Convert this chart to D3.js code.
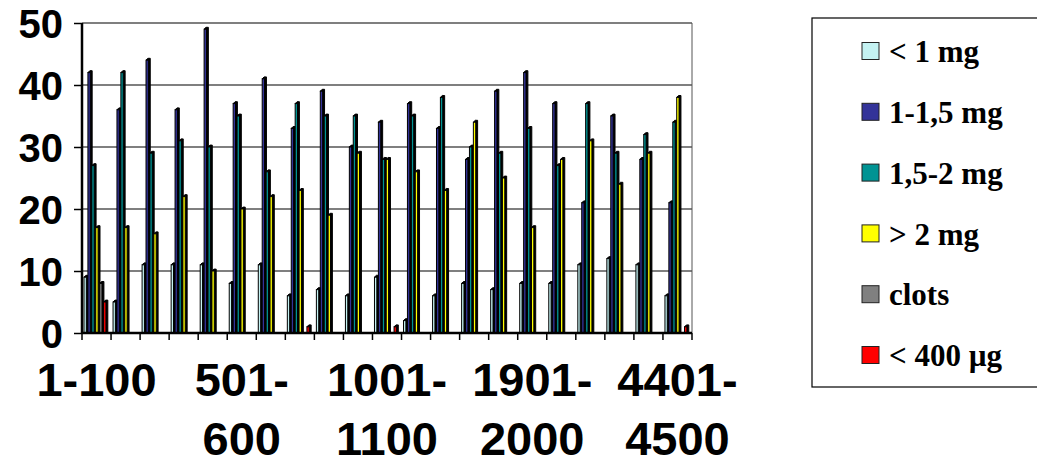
<!DOCTYPE html>
<html><head><meta charset="utf-8">
<script src="https://cdn.jsdelivr.net/npm/d3@7"></script>
<style>body{margin:0;background:#fff}svg{display:block}</style>
</head><body>
<svg id="chart" width="1037" height="461"></svg>
<script>
const categories = ["1-100","101-200","201-300","301-400","401-500","501-600","601-700","701-800","801-900","901-1000","1001-1100","1101-1200","1301-1400","1501-1600","1701-1800","1901-2000","2401-2500","2901-3000","3401-3500","3901-4000","4401-4500"];
const labelledCategories = ["1-100","501-600","1001-1100","1901-2000","4401-4500"];
const seriesNames = ["< 1 mg","1-1,5 mg","1,5-2 mg","> 2 mg","clots","< 400 µg"];
const seriesColors = ["#C4F2F2","#333399","#009393","#FFFF00","#808080","#FF0000"];
const lessThan1mg   = [9,5,11,11,11,8,11,6,7,6,9,2,6,8,7,8,8,11,12,11,6];
const from1to15mg   = [42,36,44,36,49,37,41,33,39,30,34,37,33,28,39,42,37,21,35,28,21];
const from15to2mg   = [27,42,29,31,30,35,26,37,35,35,28,35,38,30,29,33,27,37,29,32,34];
const moreThan2mg   = [17,17,16,22,10,20,22,23,19,29,28,26,23,34,25,17,28,31,24,29,38];
const clots         = [8,0,0,0,0,0,0,0,0,0,0,0,0,0,0,0,0,0,0,0,0];
const lessThan400ug = [5,0,0,0,0,0,0,1,0,0,1,0,0,0,0,0,0,0,0,0,1];
const yTicks = [0,10,20,30,40,50];

const seriesValues = [lessThan1mg, from1to15mg, from15to2mg, moreThan2mg, clots, lessThan400ug];

const svg = d3.select("#chart");
const L = 82, R = 692, T = 23, B = 333;

const x0 = d3.scaleBand().domain(categories).range([L, R]).paddingInner(0).paddingOuter(0);
const x1 = d3.scaleBand().domain(d3.range(seriesNames.length)).range([2, 25.5]);
const y = d3.scaleLinear().domain([0, 50]).range([B, T]);

// gridlines
svg.append("g").selectAll("line").data(yTicks.filter(d => d > 0)).join("line")
  .attr("x1", L).attr("x2", R).attr("y1", d => y(d)).attr("y2", d => y(d))
  .attr("stroke", "#000").attr("stroke-width", 1.2);
// right border
svg.append("line").attr("x1", R).attr("x2", R).attr("y1", T).attr("y2", B)
  .attr("stroke", "#555").attr("stroke-width", 1);

// bars
const bw = x1.bandwidth();
const face = bw * 0.6, depth = 1.9;
const gBars = svg.append("g");
categories.forEach((c, ci) => {
  seriesValues.forEach((vals, si) => {
    const v = vals[ci];
    if (v <= 0) return;
    const bx = x0(c) + x1(si);
    const by = y(v);
    const h = y(0) - by;
    gBars.append("polygon")
      .attr("points", [[bx, by], [bx + depth, by - depth], [bx + face + depth, by - depth], [bx + face + depth, y(0)], [bx + face, y(0)], [bx + face, by]].map(p => p.join(",")).join(" "))
      .attr("fill", "#000").attr("stroke", "#000").attr("stroke-width", 1);
    gBars.append("rect")
      .attr("x", bx).attr("y", by).attr("width", face).attr("height", h)
      .attr("fill", seriesColors[si]).attr("stroke", "#000").attr("stroke-width", 1);
  });
});

// y axis
const yAxis = d3.axisLeft(y).tickValues(yTicks).tickSize(8).tickPadding(11).tickFormat(d3.format("d"));
const gy = svg.append("g").attr("transform", `translate(${L},0)`).call(yAxis);
gy.select(".domain").attr("stroke", "#000").attr("stroke-width", 2.5).attr("d", `M0,${T}V${B}`);
gy.selectAll(".tick line").attr("stroke", "#000").attr("stroke-width", 1.5);
gy.selectAll(".tick text").attr("font-family", "'Liberation Sans', Arial, sans-serif")
  .attr("font-weight", "bold").attr("font-size", 40).attr("fill", "#000").attr("dy", "0.36em");

// x axis
const xAxis = d3.axisBottom(x0).tickSize(0).tickFormat(d => labelledCategories.includes(d) ? d : "");
const gx = svg.append("g").attr("transform", `translate(0,${B})`).call(xAxis);
gx.select(".domain").attr("stroke", "#000").attr("stroke-width", 2.5).attr("d", `M${L},0H${R}`);
gx.selectAll(".tick line").remove();
// boundary ticks between groups
gx.append("g").selectAll("line").data(categories.map((c) => x0(c)).concat([R])).join("line")
  .attr("x1", d => d).attr("x2", d => d).attr("y1", 0).attr("y2", 7)
  .attr("stroke", "#000").attr("stroke-width", 1.5);
gx.selectAll(".tick text").each(function(d) {
  const t = d3.select(this);
  t.text(null).attr("y", 0).attr("dy", null)
    .attr("font-family", "'Liberation Sans', Arial, sans-serif")
    .attr("font-weight", "bold").attr("font-size", 47).attr("fill", "#000");
  if (!labelledCategories.includes(d)) return;
  const parts = d.startsWith("1-") ? [d] : [d.slice(0, d.indexOf("-") + 1), d.slice(d.indexOf("-") + 1)];
  parts.forEach((p, i) => {
    t.append("tspan").attr("x", 0).attr("y", 63 + i * 59).text(p);
  });
});

// legend
const lg = svg.append("g");
lg.append("rect").attr("x", 812).attr("y", 18).attr("width", 240).attr("height", 369)
  .attr("fill", "#fff").attr("stroke", "#000").attr("stroke-width", 1.2);
const legendY = d3.scalePoint().domain(seriesNames).range([51, 355]);
seriesNames.forEach((n, i) => {
  const cy = legendY(n);
  lg.append("rect").attr("x", 862).attr("y", cy - 8.5).attr("width", 17).attr("height", 17)
    .attr("fill", seriesColors[i]).attr("stroke", "#222").attr("stroke-width", 1);
  lg.append("text").attr("x", 889).attr("y", cy).attr("dy", "0.36em")
    .attr("font-family", "'Liberation Serif', 'Times New Roman', serif")
    .attr("font-weight", "bold").attr("font-size", 31).attr("fill", "#000").text(n);
});
</script>
</body></html>
